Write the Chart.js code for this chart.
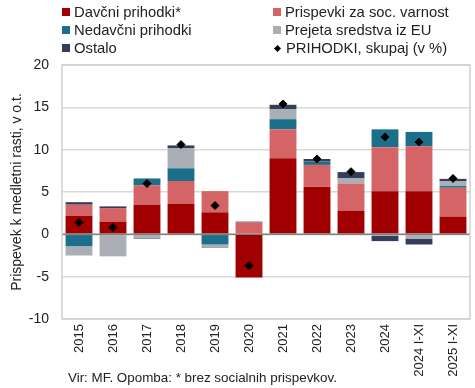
<!DOCTYPE html>
<html>
<head>
<meta charset="utf-8">
<script src="https://cdn.jsdelivr.net/npm/chart.js"></script>
<style>
  body { margin: 0; background: #fff; font-family: "Liberation Sans", Arial, sans-serif; }
  .wrap { position: relative; width: 475px; height: 388px; }
  .legend { position: absolute; top: 3px; left: 62px; width: 413px; font-size: 14.8px; color: #222; }
  .legItem { position: absolute; white-space: nowrap; line-height: 18px; }
  .legItem .box { display: inline-block; width: 8px; height: 8px; margin-right: 4px; vertical-align: 1px; }
  .legItem .dia { display: inline-block; width: 5px; height: 5px; background: #000; transform: rotate(45deg); margin: 0 6px 0 2px; vertical-align: 2px; }
  .note { position: absolute; left: 68px; top: 370px; font-size: 13.4px; color: #222; }
</style>
</head>
<body>
<div class="wrap">
  <canvas id="myChart" width="475" height="388"></canvas>
  <div class="legend" id="legend"></div>
  <div class="note">Vir: MF. Opomba: * brez socialnih prispevkov.</div>
</div>
<script>
const labels = ['2015', '2016', '2017', '2018', '2019', '2020', '2021', '2022', '2023', '2024', '2024 I-XI', '2025 I-XI'];
const davcni    = [2.2, 1.5, 3.5, 3.6, 2.6, -5.1, 9.0, 5.6, 2.8, 5.1, 5.1, 2.1];
const prispevki = [1.3, 1.6, 2.3, 2.7, 2.5, 1.4, 3.4, 2.6, 3.2, 5.2, 5.3, 3.4];
const nedavcni  = [-1.4, 0, 0.8, 1.5, -1.2, 0, 1.2, 0.4, 0, 2.1, 1.7, 0.2];
const eu        = [-1.1, -2.6, -0.4, 2.4, -0.25, 0, 1.2, 0, 0.6, -0.2, -0.5, 0.55];
const ostalo    = [0.3, 0.2, -0.1, 0.3, -0.1, 0.1, 0.5, 0.3, 0.75, -0.6, -0.7, 0.3];
const skupaj    = [1.4, 0.8, 6.0, 10.6, 3.4, -3.7, 15.4, 8.9, 7.4, 11.5, 10.9, 6.6];
const yTicks = [-10, -5, 0, 5, 10, 15, 20];

const series = [
  { label: 'Davčni prihodki*', data: davcni, color: '#a00000' },
  { label: 'Prispevki za soc. varnost', data: prispevki, color: '#d46466' },
  { label: 'Nedavčni prihodki', data: nedavcni, color: '#1b6f8a' },
  { label: 'Prejeta sredstva iz EU', data: eu, color: '#a9afb5' },
  { label: 'Ostalo', data: ostalo, color: '#353d5a' }
];

const font = "'Liberation Sans', Arial, sans-serif";

// okvir in ničelna črta
const framePlugin = {
  id: 'frame',
  afterDatasetsDraw(chart) {
    const { ctx, chartArea: a, scales } = chart;
    ctx.save();
    const y0 = scales.y.getPixelForValue(0);
    ctx.strokeStyle = '#7f7f7f';
    ctx.lineWidth = 1.5;
    ctx.beginPath();
    ctx.moveTo(a.left, y0);
    ctx.lineTo(a.right, y0);
    ctx.stroke();
    ctx.strokeStyle = '#cfcfcf';
    ctx.lineWidth = 1.5;
    ctx.strokeRect(a.left, a.top, a.right - a.left, a.bottom - a.top);
    ctx.restore();
  }
};

const datasets = series.map(s => ({
  type: 'bar',
  label: s.label,
  data: s.data,
  backgroundColor: s.color,
  stack: 'bars',
  order: 1,
  categoryPercentage: 1,
  barPercentage: 0.79
}));
datasets.push({
  type: 'line',
  label: 'PRIHODKI, skupaj (v %)',
  data: skupaj,
  stack: 'total',
  showLine: false,
  pointStyle: 'rectRot',
  pointRadius: 4,
  pointBackgroundColor: '#000',
  pointBorderColor: '#000',
  order: 0
});

const ctx = document.getElementById('myChart').getContext('2d');
const myChart = new Chart(ctx, {
  data: { labels, datasets },
  plugins: [framePlugin],
  options: {
    responsive: false,
    animation: false,
    layout: { padding: { top: 65, right: 2, left: 0, bottom: 0 } },
    plugins: { legend: { display: false }, tooltip: { enabled: false } },
    scales: {
      x: {
        stacked: true,
        grid: { display: false, drawTicks: false },
        border: { display: false },
        ticks: { minRotation: 90, maxRotation: 90, padding: 5, color: '#222', font: { family: font, size: 13 } },
        afterFit: s => { s.height = 69; }
      },
      y: {
        stacked: true,
        min: -10, max: 20,
        afterBuildTicks: s => { s.ticks = yTicks.map(v => ({ value: v })); },
        grid: { color: '#d9d9d9', lineWidth: 1.5, drawTicks: false },
        border: { display: false },
        ticks: { padding: 13, color: '#222', font: { family: font, size: 14 } },
        title: { display: true, text: 'Prispevek k medletni rasti, v o.t.', color: '#222', font: { family: font, size: 14 }, padding: { top: 9, bottom: 0 } },
        afterFit: s => { s.width = 62; }
      }
    }
  }
});

// legenda v dveh stolpcih
const legend = document.getElementById('legend');
const legendOrder = [0, 1, 2, 3, 4, 5];
legendOrder.forEach((i, k) => {
  const ds = myChart.data.datasets[i];
  const el = document.createElement('div');
  el.className = 'legItem';
  el.style.left = (k % 2 === 0 ? 0 : 211) + 'px';
  el.style.top = (Math.floor(k / 2) * 18) + 'px';
  const mark = ds.type === 'line' ? '<span class="dia"></span>' : `<span class="box" style="background:${ds.backgroundColor}"></span>`;
  el.innerHTML = mark + ds.label;
  legend.appendChild(el);
});
</script>
</body>
</html>
